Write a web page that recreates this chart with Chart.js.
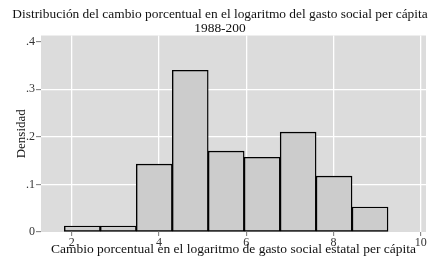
<!DOCTYPE html>
<html>
<head>
<meta charset="utf-8">
<script src="https://cdn.jsdelivr.net/npm/chart.js@4"></script>
<style>
html,body{margin:0;padding:0;background:#fff;}
#wrap{width:440px;height:265px;position:relative;}
</style>
</head>
<body>
<div id="wrap"><canvas id="c"></canvas></div>
<script>
const titleLines = ["Distribución del cambio porcentual en el logaritmo del gasto social per cápita", "1988-200"];
const xTitle = "Cambio porcentual en el logaritmo de gasto social estatal per cápita";
const yTitle = "Densidad";
const binCenters = [2.243, 3.068, 3.892, 4.717, 5.541, 6.365, 7.190, 8.014, 8.839];
const densities = [0.0126, 0.0126, 0.1427, 0.340, 0.170, 0.157, 0.210, 0.1175, 0.0525];
const xTicks = [2, 4, 6, 8, 10];
const yTicks = [0, 0.1, 0.2, 0.3, 0.4];
const yTickLabels = ["0", ".1", ".2", ".3", ".4"];

const SERIF = "'Liberation Serif', 'Times New Roman', serif";

const bgPlugin = {
  id: 'plotBg',
  beforeDraw(chart) {
    const {ctx, chartArea: a} = chart;
    ctx.save();
    ctx.fillStyle = '#dcdcdc';
    ctx.fillRect(a.left, a.top, a.right - a.left, a.bottom - a.top);
    ctx.restore();
  }
};

new Chart(document.getElementById('c'), {
  type: 'bar',
  data: {
    datasets: [{
      data: binCenters.map((x, i) => ({x: x, y: densities[i]})),
      backgroundColor: '#cccccc',
      borderColor: '#000000',
      borderWidth: 1.4,
      borderSkipped: false,
      barPercentage: 1,
      categoryPercentage: 1
    }]
  },
  options: {
    responsive: true,
    maintainAspectRatio: false,
    devicePixelRatio: 1,
    animation: false,
    layout: {padding: {left: 0, right: 0, top: 0, bottom: 0}},
    plugins: {
      legend: {display: false},
      tooltip: {enabled: false},
      title: {
        display: true,
        text: titleLines,
        color: '#111',
        font: {family: SERIF, size: 13.4, weight: 'normal', lineHeight: 1.045},
        padding: {top: 7, bottom: 0.5}
      }
    },
    scales: {
      x: {
        type: 'linear',
        min: 1.296,
        max: 10.121,
        offset: false,
        afterFit(s) { s.height = 33; },
        afterBuildTicks(s) { s.ticks = xTicks.map(v => ({value: v})); },
        grid: {
          offset: false,
          color: '#ffffff',
          lineWidth: 1.3,
          drawTicks: true,
          tickLength: 4,
          tickColor: '#777',
          tickWidth: 1
        },
        border: {display: false},
        ticks: {
          color: '#333',
          font: {family: SERIF, size: 12},
          padding: 0,
          maxRotation: 0,
          autoSkip: false
        },
        title: {
          display: true,
          text: xTitle,
          color: '#111',
          font: {family: SERIF, size: 13.5, lineHeight: 1.2},
          padding: {top: 0, bottom: 7}
        }
      },
      y: {
        type: 'linear',
        min: 0,
        max: 0.413,
        afterFit(s) { s.width = 41; },
        afterBuildTicks(s) { s.ticks = yTicks.map(v => ({value: v})); },
        grid: {
          color: (c) => (c.tick && (c.tick.value === 0 || c.tick.value === 0.4)) ? 'rgba(0,0,0,0)' : '#ffffff',
          lineWidth: 1.3,
          drawTicks: true,
          tickLength: 5,
          tickColor: '#777',
          tickWidth: 1
        },
        border: {display: false},
        ticks: {
          color: '#333',
          font: {family: SERIF, size: 12},
          padding: 1,
          callback: (v) => {
            const i = yTicks.indexOf(v);
            return i >= 0 ? yTickLabels[i] : '';
          }
        },
        title: {
          display: true,
          text: yTitle,
          color: '#111',
          font: {family: SERIF, size: 13, lineHeight: 1.2},
          padding: {top: 13.5, bottom: 0}
        }
      },
      yR: {
        type: 'linear',
        position: 'right',
        display: true,
        afterFit(s) { s.width = 14; },
        grid: {display: false, drawTicks: false},
        border: {display: false},
        ticks: {display: false}
      }
    }
  },
  plugins: [bgPlugin]
});
</script>
</body>
</html>
